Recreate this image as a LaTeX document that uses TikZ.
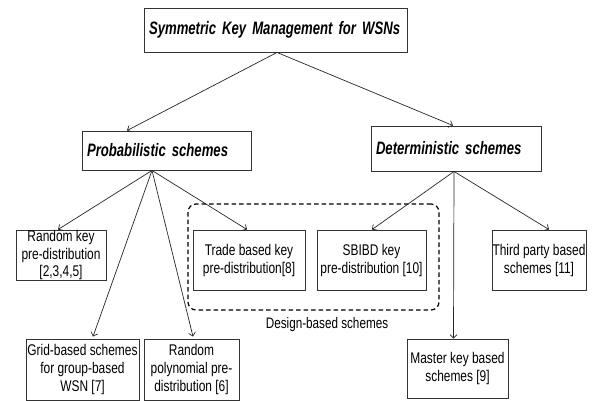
\documentclass[tikz,border=0pt]{standalone}
\usepackage{fontspec}
\setmainfont{Liberation Sans}
\newfontfamily\headfont[FakeStretch=0.73]{Liberation Sans}
\newfontfamily\boxfont[FakeStretch=0.77]{Liberation Sans}
\usetikzlibrary{arrows.meta}
\begin{document}
\begin{tikzpicture}[x=1pt,y=-1pt,
 box/.style={draw=black!80, line width=0.9pt, inner sep=0pt, align=center, font={\boxfont\fontsize{15.5}{18}\selectfont}},
 head/.style={draw=black!80, line width=0.9pt, inner xsep=5pt, inner ysep=0pt, align=left, font={\headfont\fontsize{18}{21}\selectfont\bfseries\itshape}},
 link/.style={draw=black!85, line width=0.7pt, -{Straight Barb[length=3.5pt,width=7pt]}},
 group/.style={draw=black, line width=1.2pt, dash pattern=on 4.5pt off 3pt, rounded corners=8pt},
 note/.style={inner sep=0pt, font={\boxfont\fontsize{15.2}{17}\selectfont}}]
\useasboundingbox[fill=white] (0,0) rectangle (592,401);

\node[head, text width=253pt, minimum height=44pt] (top) at (275.5,30) {\mbox{Symmetric Key Management for WSNs}};
\node[head, text width=159pt, minimum height=39pt] (prob) at (166.5,150.5) {\mbox{Probabilistic schemes}};
\node[head, text width=160pt, minimum height=45pt] (det) at (456,148.5) {\mbox{Deterministic schemes}};

\node[group, minimum width=251pt, minimum height=106pt] (design) at (313.5,257) {};
\node[note] (dlabel) at (327,325) {Design-based schemes};

\node[box, inner ysep=-6pt, minimum width=90pt, minimum height=50pt, font={\boxfont\fontsize{15.5}{17.5}\selectfont}] (rk) at (61,255) {Random key\\pre-distribution\\{[2,3,4,5]}};
\node[box, minimum width=112pt, minimum height=60pt] (trade) at (249,260) {Trade based key\\pre-distribution[8]};
\node[box, minimum width=109pt, minimum height=60pt] (sbibd) at (371.5,260) {SBIBD key\\pre-distribution [10]};
\node[box, minimum width=94pt, minimum height=60pt] (third) at (539,260) {Third party based\\schemes [11]};
\node[box, minimum width=113pt, minimum height=61pt] (grid) at (82.5,369.5) {Grid-based schemes\\for group-based\\WSN [7]};
\node[box, minimum width=95pt, minimum height=61pt] (poly) at (191.5,369.5) {Random\\polynomial pre-\\distribution [6]};
\node[box, minimum width=101pt, minimum height=59pt] (master) at (457.5,368.5) {Master key based\\schemes [9]};

\draw[link] ([xshift=1.5pt]top.south) -- ([xshift=-39.5pt]prob.north);
\draw[link] ([xshift=1.5pt]top.south) -- ([xshift=-3pt]det.north);

\draw[link] ([xshift=-14.5pt]prob.south) -- ([xshift=-3pt]rk.north);
\draw[link] ([xshift=-14.5pt]prob.south) -- ([xshift=10.5pt,yshift=2pt]grid.north);
\draw[link] ([xshift=-14.5pt]prob.south) -- ([xshift=1.5pt,yshift=2pt]poly.north);
\draw[link] ([xshift=-14.5pt]prob.south) -- ([xshift=-2pt]trade.north);

\draw[link] ([xshift=-2pt]det.south) -- ([xshift=0.5pt]sbibd.north);
\draw[link] ([xshift=-2pt]det.south) -- ([xshift=-4pt]master.north);
\draw[link] ([xshift=-2pt]det.south) -- ([xshift=10pt]third.north);
\end{tikzpicture}
\end{document}
